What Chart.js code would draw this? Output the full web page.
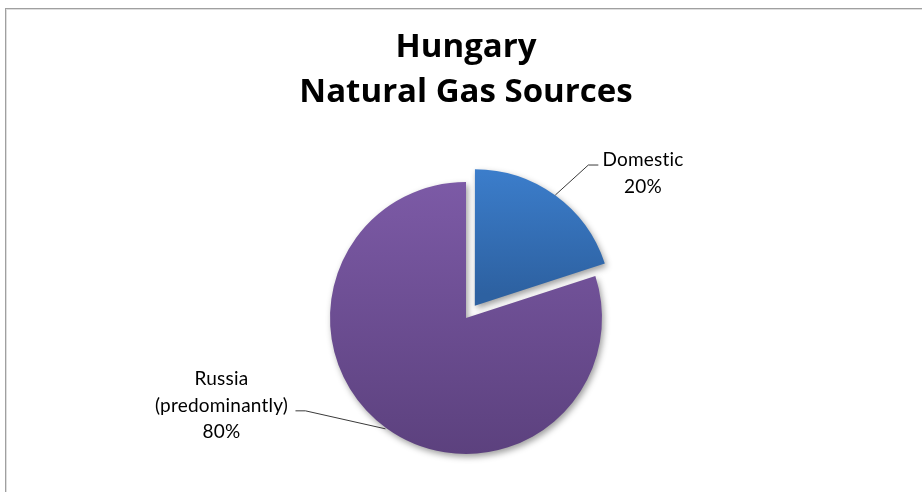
<!DOCTYPE html>
<html>
<head>
<meta charset="utf-8">
<script src="https://cdn.jsdelivr.net/npm/chart.js@4"></script>
<style>
  html, body { margin: 0; padding: 0; background: #fff; }
  #wrap { width: 922px; height: 492px; position: relative; }
</style>
</head>
<body>
<div id="wrap"><canvas id="c" width="922" height="492"></canvas></div>
<script>
// ---- data ----
const titleLines = ['Hungary', 'Natural Gas Sources'];
const categories = ['Domestic', 'Russia (predominantly)'];
const categoryLines = [['Domestic'], ['Russia', '(predominantly)']];
const shares = [20, 80];
const explode = [15, 0];

// ---- style ----
const gradTop = ['#3d80cf', '#7c5aa6'];
const gradBottom = ['#2d61a1', '#5c417e'];
const RADIUS = 136;
const FONT = 'Lato, "Open Sans", "Noto Sans", sans-serif';
const TITLE_FONT = '"Open Sans", Lato, "Noto Sans", sans-serif';

function sliceAngles(i) {
  const total = shares.reduce((a, b) => a + b, 0);
  let start = -Math.PI / 2;
  for (let k = 0; k < i; k++) start += shares[k] / total * Math.PI * 2;
  const end = start + shares[i] / total * Math.PI * 2;
  return [start, end];
}

function sliceGradient(context) {
  const chart = context.chart;
  const i = context.dataIndex;
  const a = chart.chartArea;
  if (!a) return gradTop[i];
  const cy = (a.top + a.bottom) / 2;
  const [s, e] = sliceAngles(i);
  const mid = (s + e) / 2;
  const oy = Math.sin(mid) * explode[i];
  let y0 = cy + oy, y1 = cy + oy;
  for (let t = s; t <= e + 1e-9; t += 0.01) {
    const y = cy + oy + Math.sin(t) * RADIUS;
    y0 = Math.min(y0, y); y1 = Math.max(y1, y);
  }
  const g = chart.ctx.createLinearGradient(0, y0, 0, y1);
  g.addColorStop(0, gradTop[i]);
  g.addColorStop(1, gradBottom[i]);
  return g;
}

const labelGeom = [
  { elbow: [33, -30], tail: 10, textCx: 643, baseline: 166 },
  { elbow: [-80, -18], tail: -10, textCx: 221.5, baseline: 385 }
];

const deco = {
  id: 'deco',
  beforeDraw(chart) {
    const c = chart.ctx;
    c.save();
    c.fillStyle = '#fff';
    c.fillRect(0, 0, chart.width, chart.height);
    c.strokeStyle = '#a0a0a0';
    c.lineWidth = 1;
    c.strokeRect(5.5, 8.5, chart.width + 20, chart.height + 20);
    c.strokeStyle = 'rgba(160,160,160,0.35)';
    c.strokeRect(6.5, 9.5, chart.width + 20, chart.height + 20);
    c.restore();
  },
  beforeDatasetsDraw(chart) {
    const c = chart.ctx;
    c.save();
    c.shadowColor = 'rgba(0,0,0,0.38)';
    c.shadowBlur = 6;
    c.shadowOffsetX = 2;
    c.shadowOffsetY = 3;
  },
  afterDatasetsDraw(chart) {
    chart.ctx.restore();
  },
  afterDraw(chart) {
    const c = chart.ctx;
    c.save();
    // title
    c.fillStyle = '#000';
    c.textAlign = 'center';
    c.textBaseline = 'alphabetic';
    c.font = 'bold 33px ' + TITLE_FONT;
    c.fillText(titleLines[0], 466, 57);
    c.fillText(titleLines[1], 466, 102);
    // labels
    const meta = chart.getDatasetMeta(0);
    c.font = '19px ' + FONT;
    if ('letterSpacing' in c) c.letterSpacing = '0.2px'; // avoids the Lato "st" ligature
    meta.data.forEach((arc, i) => {
      const p = arc.getProps(['x', 'y', 'startAngle', 'endAngle', 'outerRadius'], true);
      const mid = (p.startAngle + p.endAngle) / 2;
      const rr = p.outerRadius + explode[i] + 1;
      const ex = p.x + Math.cos(mid) * rr, ey = p.y + Math.sin(mid) * rr;
      const g = labelGeom[i];
      const bx = ex + g.elbow[0], by = ey + g.elbow[1];
      c.strokeStyle = '#3a3a3a';
      c.lineWidth = 1;
      c.beginPath();
      c.moveTo(ex, ey);
      c.lineTo(bx, by);
      c.lineTo(bx + g.tail, by);
      c.stroke();
      const lines = categoryLines[i].concat([shares[i] + '%']);
      c.fillStyle = '#000';
      c.textAlign = 'center';
      lines.forEach((ln, k) => c.fillText(ln, g.textCx, g.baseline + k * 26.7));
    });
    c.restore();
  }
};

new Chart(document.getElementById('c'), {
  type: 'pie',
  data: {
    labels: categories,
    datasets: [{
      data: shares,
      backgroundColor: sliceGradient,
      borderWidth: 0,
      // Chart.js translates an arc by offset/4
      offset: explode.map(v => v * 4),
      hoverOffset: 0
    }]
  },
  options: {
    responsive: false,
    animation: false,
    radius: RADIUS,
    layout: { padding: { left: 100, right: 90, top: 150, bottom: 6 } },
    plugins: {
      legend: { display: false },
      title: { display: false },
      tooltip: { enabled: false }
    },
    events: []
  },
  plugins: [deco]
});
</script>
</body>
</html>
